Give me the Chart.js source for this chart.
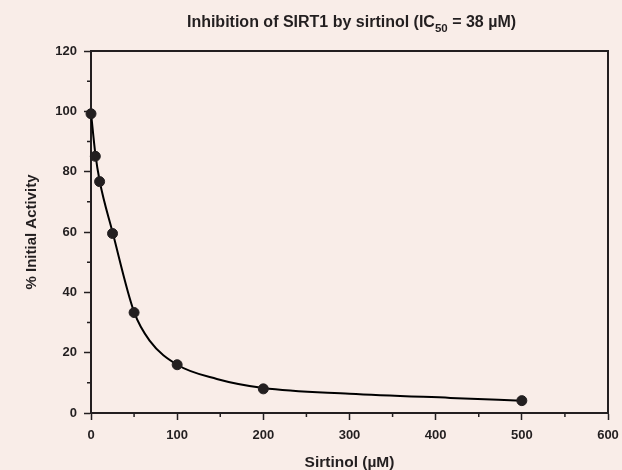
<!DOCTYPE html>
<html>
<head>
<meta charset="utf-8">
<script src="https://cdn.jsdelivr.net/npm/chart.js@4/dist/chart.umd.min.js"></script>
<style>
  html, body { margin: 0; padding: 0; background: #f9ede8; }
  #wrap { width: 622px; height: 470px; position: relative; }
</style>
</head>
<body>
<div id="wrap"><canvas id="chart"></canvas></div>
<script>
// Sirtinol concentration (uM) vs. remaining SIRT1 activity (%)
const concentrations = [0, 5, 10, 25, 50, 100, 200, 500];
const activity = [99.2, 85.1, 76.7, 59.5, 33.3, 16, 8, 4.1];

// Fitted inhibition curve, sampled along the drawn line
const fitConc = [0, 5, 10, 25, 50, 68, 100, 146, 200, 300, 417, 500];
const fitActivity = [99.5, 86, 77, 60, 33.5, 24, 16, 11.3, 8.3, 6.4, 5.0, 4.1];

const xTicks = [0, 100, 200, 300, 400, 500, 600];
const xMinorTicks = [50, 150, 250, 350, 450, 550];
const yTicks = [0, 20, 40, 60, 80, 100, 120];
const yMinorTicks = [10, 30, 50, 70, 90, 110];

const ink = '#231f20';
const fontFamily = '"Liberation Sans", Arial, sans-serif';

// box around the plot plus the short minor ticks
const framePlugin = {
    id: 'frame',
    beforeDatasetsDraw(chart) {
        const { ctx, chartArea: a, scales } = chart;
        ctx.save();
        ctx.strokeStyle = ink;
        ctx.lineWidth = 2;
        ctx.strokeRect(a.left, a.top, a.right - a.left, a.bottom - a.top);
        ctx.lineWidth = 1.5;
        ctx.beginPath();
        xMinorTicks.forEach((v) => {
            const x = scales.x.getPixelForValue(v);
            ctx.moveTo(x, a.bottom);
            ctx.lineTo(x, a.bottom + 4);
        });
        yMinorTicks.forEach((v) => {
            const y = scales.y.getPixelForValue(v);
            ctx.moveTo(a.left, y);
            ctx.lineTo(a.left - 4, y);
        });
        ctx.stroke();
        ctx.restore();
    }
};

// title with the subscripted IC50
const titlePlugin = {
    id: 'subTitle',
    afterDraw(chart) {
        const ctx = chart.ctx;
        const parts = [
            { text: 'Inhibition of SIRT1 by sirtinol (IC', size: 16, dy: 0 },
            { text: '50', size: 11.5, dy: 5 },
            { text: ' = 38 µM)', size: 16, dy: 0 }
        ];
        ctx.save();
        ctx.fillStyle = ink;
        ctx.textBaseline = 'alphabetic';
        let total = 0;
        parts.forEach((p) => {
            ctx.font = 'bold ' + p.size + 'px ' + fontFamily;
            p.w = ctx.measureText(p.text).width;
            total += p.w;
        });
        let x = 351.5 - total / 2;
        parts.forEach((p) => {
            ctx.font = 'bold ' + p.size + 'px ' + fontFamily;
            ctx.fillText(p.text, x, 26.5 + p.dy);
            x += p.w;
        });
        ctx.restore();
    }
};

new Chart(document.getElementById('chart'), {
    type: 'scatter',
    data: {
        datasets: [
            {
                label: 'Sirtinol',
                data: concentrations.map((c, i) => ({ x: c, y: activity[i] })),
                pointRadius: 5,
                pointHoverRadius: 5,
                pointBackgroundColor: ink,
                pointBorderColor: ink,
                showLine: false,
                clip: false,
                order: 0
            },
            {
                label: 'Fit',
                data: fitConc.map((c, i) => ({ x: c, y: fitActivity[i] })),
                showLine: true,
                borderColor: '#000',
                borderWidth: 2,
                pointRadius: 0,
                cubicInterpolationMode: 'monotone',
                clip: false,
                order: 1
            }
        ]
    },
    options: {
        responsive: true,
        maintainAspectRatio: false,
        animation: false,
        layout: { padding: { left: 0, top: 51, right: 14, bottom: 0 } },
        plugins: {
            legend: { display: false },
            tooltip: { enabled: false }
        },
        scales: {
            x: {
                type: 'linear',
                min: 0,
                max: 600,
                afterBuildTicks: (scale) => { scale.ticks = xTicks.map((v) => ({ value: v })); },
                afterFit: (scale) => {
                    scale.height = 57;
                    scale.paddingLeft = 0;
                    scale.paddingRight = 0;
                },
                grid: { drawOnChartArea: false, tickLength: 7, tickColor: ink, tickWidth: 1.5 },
                border: { display: true, color: ink, width: 2 },
                ticks: {
                    color: ink,
                    padding: 8,
                    maxRotation: 0,
                    autoSkip: false,
                    font: { family: fontFamily, size: 13, weight: 'bold' }
                },
                title: {
                    display: true,
                    text: 'Sirtinol (µM)',
                    color: ink,
                    padding: { top: 0, bottom: 0 },
                    font: { family: fontFamily, size: 15.5, weight: 'bold', lineHeight: 1 }
                }
            },
            y: {
                type: 'linear',
                min: 0,
                max: 120,
                afterBuildTicks: (scale) => { scale.ticks = yTicks.map((v) => ({ value: v })); },
                afterFit: (scale) => {
                    scale.width = 91;
                    scale.paddingTop = 0;
                    scale.paddingBottom = 0;
                },
                grid: { drawOnChartArea: false, tickLength: 7, tickColor: ink, tickWidth: 1.5 },
                border: { display: true, color: ink, width: 2 },
                ticks: {
                    color: ink,
                    padding: 7,
                    font: { family: fontFamily, size: 13, weight: 'bold' }
                },
                title: {
                    display: true,
                    text: '% Initial Activity',
                    color: ink,
                    padding: { top: 24, bottom: 0 },
                    font: { family: fontFamily, size: 15, weight: 'bold', lineHeight: 1 }
                }
            }
        }
    },
    plugins: [framePlugin, titlePlugin]
});
</script>
</body>
</html>
